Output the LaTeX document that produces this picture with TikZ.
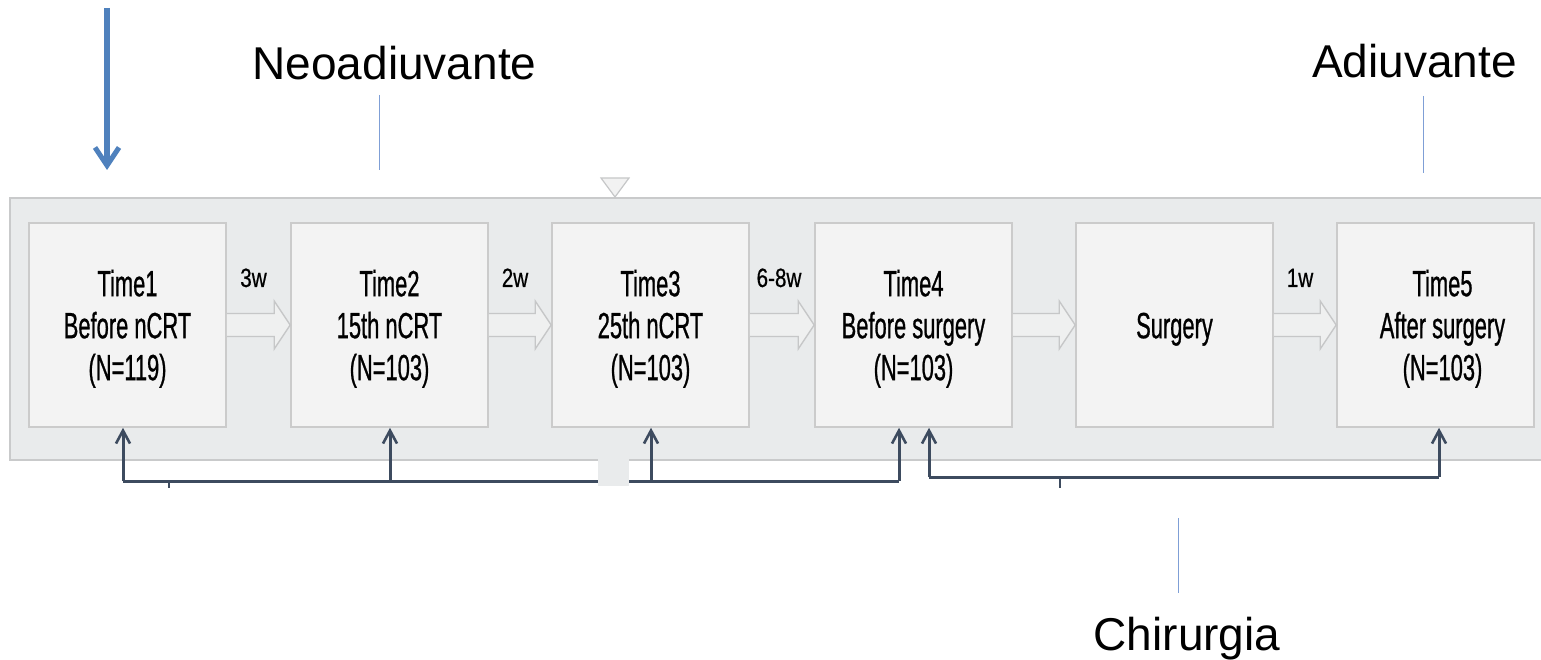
\documentclass[tikz,border=0pt]{standalone}
\usepackage{fontspec}
\setmainfont{Liberation Sans}
\newfontfamily\condfont[FakeStretch=0.6,FakeBold=0.7]{Liberation Sans}
\newfontfamily\labfont[FakeStretch=0.78,FakeBold=0.5]{Liberation Sans}
\usetikzlibrary{arrows.meta,calc}
\definecolor{bandfill}{HTML}{E9EBEC}
\definecolor{banddraw}{HTML}{C9CACB}
\definecolor{boxfill}{HTML}{F3F3F3}
\definecolor{boxdraw}{HTML}{CBCBCB}
\definecolor{harrfill}{HTML}{EFF0F0}
\definecolor{harrdraw}{HTML}{C6C7C8}
\definecolor{connc}{HTML}{3D4B5F}
\definecolor{bluearr}{HTML}{4F81BD}
\definecolor{thinblue}{HTML}{7F9FD6}
\newcommand\topstrut{\rule{0pt}{34pt}}
\newcommand\hollowarrow[2]{%
  \draw[harr] ($(#1.east)+(0,-11.5)$) -- ($(#2.west)+(-16,-11.5)$) -- ($(#2.west)+(-16,-24)$)
    -- (#2.west) -- ($(#2.west)+(-16,24)$) -- ($(#2.west)+(-16,11.5)$) -- ($(#1.east)+(0,11.5)$);}
\begin{document}
\begin{tikzpicture}[x=1pt,y=-1pt,
  band/.style={fill=bandfill,draw=banddraw,line width=2pt},
  tbox/.style={draw=boxdraw,fill=boxfill,line width=1.6pt,minimum width=197pt,minimum height=204pt,
    align=center,text=black,font={\condfont\fontsize{36.5}{42}\selectfont}},
  harr/.style={fill=harrfill,draw=harrdraw,line width=1.4pt,line join=miter},
  wlab/.style={anchor=base,font={\labfont\fontsize{26.5}{30}\selectfont},text=black},
  biglab/.style={anchor=base,font={\fontsize{46}{50}\selectfont},text=black},
  conn/.style={draw=connc,line width=3pt},
  ctip/.style={-{Straight Barb[length=13pt,width=14pt,line width=2.6pt]}},
  thin/.style={draw=thinblue,line width=1pt}]
\useasboundingbox (0,0) rectangle (1541,660);
% band
\draw[band] (10,198) rectangle (1552,460);
% triangle on top of band
\draw[fill=white!95!black,draw=harrdraw,line width=1.2pt] (601,178) -- (629,178) -- (615,197) -- cycle;
% boxes
\node[tbox] (b1) at (127.5,325) {\topstrut Time1\\Before nCRT\\(N=119)};
\node[tbox] (b2) at (389.5,325) {\topstrut Time2\\15th nCRT\\(N=103)};
\node[tbox] (b3) at (650.5,325) {\topstrut Time3\\25th nCRT\\(N=103)};
\node[tbox] (b4) at (913.5,325) {\topstrut Time4\\Before surgery\\(N=103)};
\node[tbox] (b5) at (1174.5,325) {\topstrut Surgery};
\node[tbox] (b6) at (1435.5,325) {\topstrut\hspace*{14pt}Time5\\\hspace*{14pt}After surgery\\\hspace*{14pt}(N=103)};
% hollow arrows
\hollowarrow{b1}{b2}
\hollowarrow{b2}{b3}
\hollowarrow{b3}{b4}
\hollowarrow{b4}{b5}
\hollowarrow{b5}{b6}
% interval labels
\node[wlab] (w1) at (253.5,287) {3w};
\node[wlab] (w2) at (515,287) {2w};
\node[wlab] (w3) at (779,287) {6-8w};
\node[wlab] (w4) at (1300,287) {1w};
% connector coordinates
\coordinate (L1) at (123,481);
\coordinate (L2) at (390,481);
\coordinate (L3) at (651,481);
\coordinate (L4) at (899,481);
\coordinate (R1) at (929,477);
\coordinate (R2) at (1439,477);
\coordinate (T1a) at (169,481);
\coordinate (T1b) at (169,488);
\coordinate (T2a) at (1060,477);
\coordinate (T2b) at (1060,488);
% connectors
\draw[conn,line join=miter] (L1) -- (L4);
\draw[conn,ctip] (L1) -- (L1 |- b1.south);
\draw[conn,ctip] (L2) -- (L2 |- b2.south);
\draw[conn,ctip] (L3) -- (L3 |- b3.south);
\draw[conn,ctip] (L4) -- (L4 |- b4.south);
\draw[conn,line join=miter] (R1) -- (R2);
\draw[conn,ctip] (R1) -- (R1 |- b4.south);
\draw[conn,ctip] (R2) -- (R2 |- b6.south);
\draw[conn,line width=2.2pt] (T1a) -- (T1b);
\draw[conn,line width=2.2pt] (T2a) -- (T2b);
% small grey tab below band
\fill[bandfill] (598,459) rectangle (629,486);
% blue arrow at top left
\coordinate (ba0) at (107,8);
\coordinate (ba1) at (107,170);
\draw[draw=bluearr,line width=5.5pt,-{Straight Barb[length=18pt,width=24pt,line width=5pt]}] (ba0) -- (ba1);
% phase labels
\node[biglab] (neo) at (394.5,80) {Neoadiuvante};
\node[biglab] (adj) at (1414.5,78) {Adiuvante};
\node[biglab] (chir) at (1187,650) {Chirurgia};
% thin blue lines
\coordinate (n0) at (379,95); \coordinate (n1) at (379,170);
\coordinate (a0) at (1423,96); \coordinate (a1) at (1423,173);
\coordinate (c0) at (1178,518); \coordinate (c1) at (1178,593);
\draw[thin] (n0) -- (n1);
\draw[thin] (a0) -- (a1);
\draw[thin] (c0) -- (c1);
\end{tikzpicture}
\end{document}
